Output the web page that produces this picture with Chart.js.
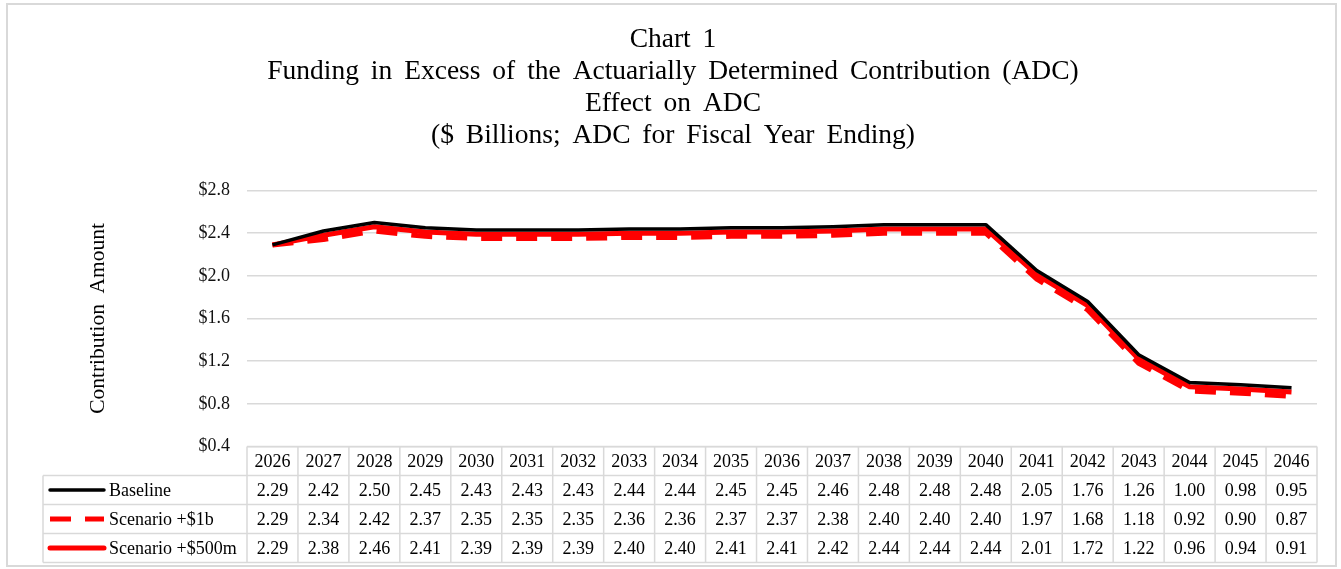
<!DOCTYPE html>
<html>
<head>
<meta charset="utf-8">
<script src="https://cdn.jsdelivr.net/npm/chart.js@4.4.1/dist/chart.umd.min.js"></script>
<style>
    html, body { margin: 0; padding: 0; background: #fff; }
    canvas { display: block; }
</style>
</head>
<body>
<canvas id="adcChart" width="1341" height="569"></canvas>
<script>
// Fiscal years and ADC values ($ billions)
const years = ['2026', '2027', '2028', '2029', '2030', '2031', '2032', '2033', '2034', '2035', '2036',
    '2037', '2038', '2039', '2040', '2041', '2042', '2043', '2044', '2045', '2046'];
const baseline = [2.29, 2.42, 2.50, 2.45, 2.43, 2.43, 2.43, 2.44, 2.44, 2.45, 2.45,
    2.46, 2.48, 2.48, 2.48, 2.05, 1.76, 1.26, 1.00, 0.98, 0.95];
const scenario1b = [2.29, 2.34, 2.42, 2.37, 2.35, 2.35, 2.35, 2.36, 2.36, 2.37, 2.37,
    2.38, 2.40, 2.40, 2.40, 1.97, 1.68, 1.18, 0.92, 0.90, 0.87];
const scenario500m = [2.29, 2.38, 2.46, 2.41, 2.39, 2.39, 2.39, 2.40, 2.40, 2.41, 2.41,
    2.42, 2.44, 2.44, 2.44, 2.01, 1.72, 1.22, 0.96, 0.94, 0.91];
const seriesNames = ['Baseline', 'Scenario +$1b', 'Scenario +$500m'];
const titleLines = ['Chart 1', 'Funding in Excess of the Actuarially Determined Contribution (ADC)',
    'Effect on ADC', '($ Billions; ADC for Fiscal Year Ending)'];

const serif = "'Liberation Serif', 'Times New Roman', serif";
const lineGrey = '#d9d9d9';

// white background and the thin frame round the whole chart
const framePlugin = {
    id: 'frame',
    beforeDraw(chart) {
        const c = chart.ctx;
        c.save();
        c.fillStyle = '#fff';
        c.fillRect(0, 0, chart.width, chart.height);
        c.strokeStyle = lineGrey;
        c.lineWidth = 2;
        c.strokeRect(7, 4, 1329, 562);
        c.restore();
        // titles are set with loose word spacing
        c.wordSpacing = '5px';
    }
};

// data table under the plot: year header, legend keys and values
const tablePlugin = {
    id: 'dataTable',
    afterDraw(chart) {
        const c = chart.ctx;
        c.wordSpacing = '0px';
        const area = chart.chartArea;
        const xs = chart.scales.x;
        const colW = (area.right - area.left) / years.length;
        const rowH = 29;
        const top = area.bottom;
        const labelLeft = 43;
        const rowsTop = top + rowH;
        const bottom = rowsTop + rowH * seriesNames.length;

        c.save();
        c.strokeStyle = lineGrey;
        c.lineWidth = 1.5;
        c.beginPath();
        // horizontal rules
        c.moveTo(area.left, top); c.lineTo(area.right, top);
        for (let r = 0; r <= seriesNames.length; r++) {
            const y = rowsTop + r * rowH;
            c.moveTo(labelLeft, y); c.lineTo(area.right, y);
        }
        // vertical rules
        c.moveTo(labelLeft, rowsTop); c.lineTo(labelLeft, bottom);
        for (let i = 0; i <= years.length; i++) {
            const x = area.left + i * colW;
            c.moveTo(x, top); c.lineTo(x, bottom);
        }
        c.stroke();

        c.fillStyle = '#000';
        c.font = '18px ' + serif;
        c.textAlign = 'center';
        c.textBaseline = 'middle';
        years.forEach((yr, i) => {
            c.fillText(yr, xs.getPixelForValue(i), top + rowH / 2 + 1);
        });

        chart.data.datasets.forEach((ds, r) => {
            const cy = rowsTop + r * rowH + rowH / 2 + 1;
            ds.data.forEach((v, i) => {
                c.fillText(v.toFixed(2), xs.getPixelForValue(i), cy);
            });
            // legend key
            c.save();
            c.strokeStyle = ds.borderColor;
            c.lineWidth = ds.borderWidth;
            c.setLineDash(ds.borderDash || []);
            c.lineCap = ds.borderDash ? 'butt' : 'round';
            c.beginPath();
            c.moveTo(50, cy - 1);
            c.lineTo(104, cy - 1);
            c.stroke();
            c.restore();
            c.textAlign = 'left';
            c.fillText(ds.label, 109, cy);
            c.textAlign = 'center';
        });
        c.restore();
    }
};

const chartConfig = {
    type: 'line',
    data: {
        labels: years,
        datasets: [{
                label: seriesNames[0],
                data: baseline,
                borderColor: '#000000',
                borderWidth: 3.5,
                order: 0,
            },
            {
                label: seriesNames[1],
                data: scenario1b,
                borderColor: '#ff0000',
                borderWidth: 5,
                borderDash: [21, 14],
                order: 2,
            },
            {
                label: seriesNames[2],
                data: scenario500m,
                borderColor: '#ff0000',
                borderWidth: 5,
                order: 1,
            },
        ],
    },
    options: {
        responsive: false,
        animation: false,
        elements: {
            point: { radius: 0 },
            line: { tension: 0, borderJoinStyle: 'round', fill: false },
        },
        layout: {
            padding: { left: 29, right: 24, top: 0, bottom: 122.5 },
        },
        scales: {
            x: {
                type: 'category',
                display: false,
                offset: true,
            },
            y: {
                min: 0.4,
                max: 2.8,
                afterFit(scale) { scale.width = 218; },
                border: { display: false },
                grid: { color: lineGrey, lineWidth: 1.5, drawTicks: false },
                ticks: {
                    stepSize: 0.4,
                    padding: 17,
                    color: '#111',
                    font: { family: serif, size: 18 },
                    callback: v => '$' + v.toFixed(1),
                },
                title: {
                    display: true,
                    text: 'Contribution Amount',
                    color: '#000',
                    font: { family: serif, size: 21.5 },
                    padding: { top: 56, bottom: 0 },
                },
            },
        },
        plugins: {
            legend: { display: false },
            tooltip: { enabled: false },
            title: {
                display: true,
                text: titleLines,
                color: '#000',
                font: { family: serif, size: 27.5, weight: 'normal', lineHeight: 32 / 27.5 },
                padding: { top: 24, bottom: 38.5 },
            },
        },
    },
    plugins: [framePlugin, tablePlugin],
};

const ctx = document.getElementById('adcChart').getContext('2d');
new Chart(ctx, chartConfig);
</script>
</body>
</html>
